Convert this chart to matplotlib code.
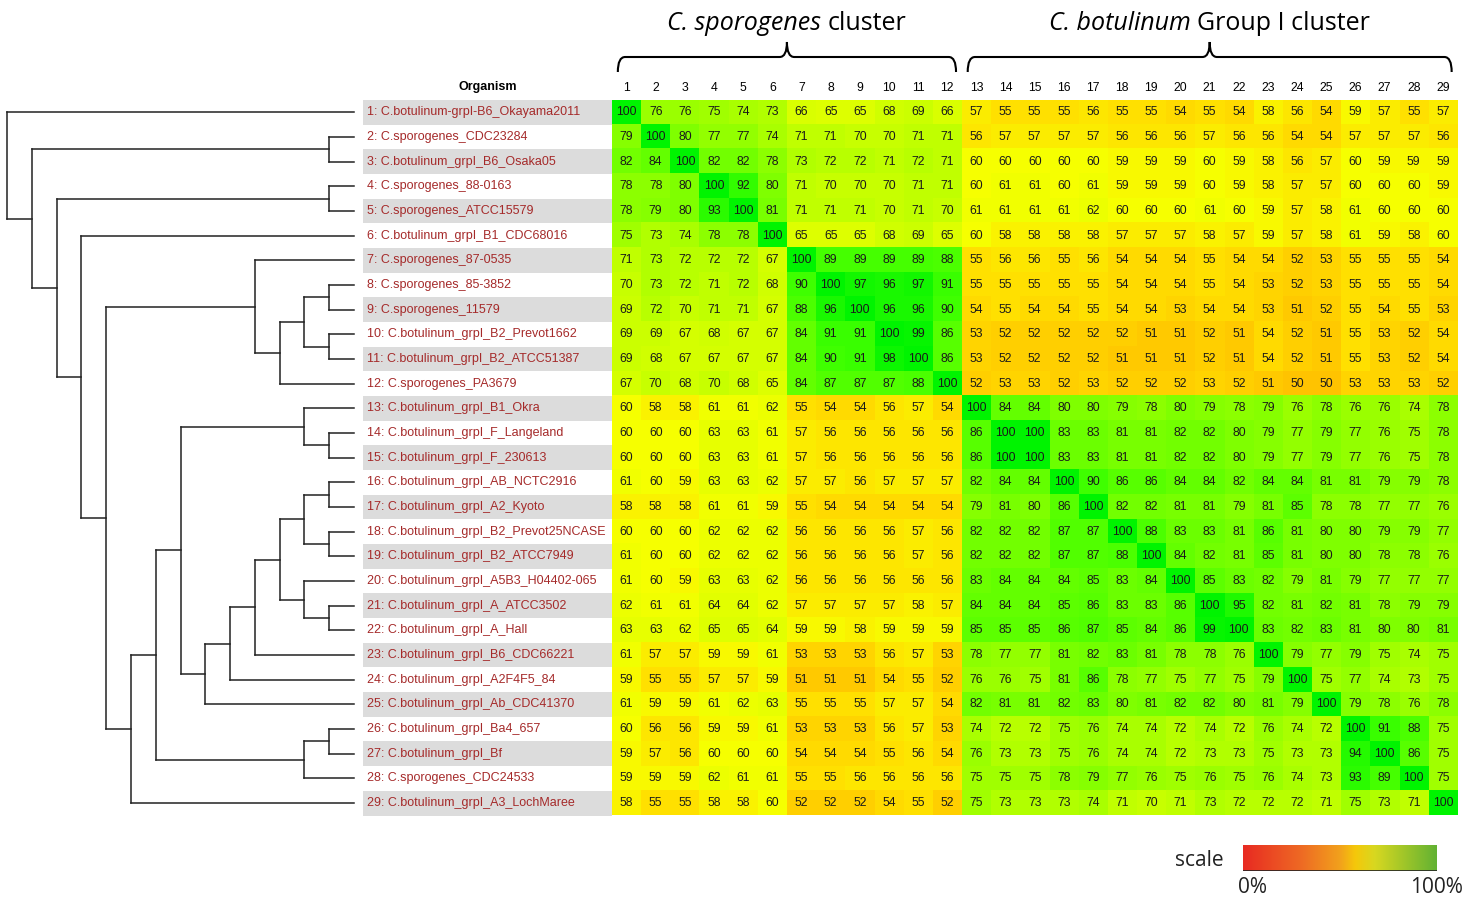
import matplotlib
matplotlib.use("Agg")
import matplotlib.pyplot as plt
import numpy as np
from matplotlib.colors import LinearSegmentedColormap, hsv_to_rgb
from matplotlib.path import Path
from matplotlib.patches import PathPatch
from matplotlib.transforms import offset_copy

organisms = [
    "C.botulinum-grpI-B6_Okayama2011", "C.sporogenes_CDC23284", "C.botulinum_grpI_B6_Osaka05",
    "C.sporogenes_88-0163", "C.sporogenes_ATCC15579", "C.botulinum_grpI_B1_CDC68016",
    "C.sporogenes_87-0535", "C.sporogenes_85-3852", "C.sporogenes_11579",
    "C.botulinum_grpI_B2_Prevot1662", "C.botulinum_grpI_B2_ATCC51387", "C.sporogenes_PA3679",
    "C.botulinum_grpI_B1_Okra", "C.botulinum_grpI_F_Langeland", "C.botulinum_grpI_F_230613",
    "C.botulinum_grpI_AB_NCTC2916", "C.botulinum_grpI_A2_Kyoto", "C.botulinum_grpI_B2_Prevot25NCASE",
    "C.botulinum_grpI_B2_ATCC7949", "C.botulinum_grpI_A5B3_H04402-065", "C.botulinum_grpI_A_ATCC3502",
    "C.botulinum_grpI_A_Hall", "C.botulinum_grpI_B6_CDC66221", "C.botulinum_grpI_A2F4F5_84",
    "C.botulinum_grpI_Ab_CDC41370", "C.botulinum_grpI_Ba4_657", "C.botulinum_grpI_Bf",
    "C.sporogenes_CDC24533", "C.botulinum_grpI_A3_LochMaree",
]

identity = [
    [100, 76, 76, 75, 74, 73, 66, 65, 65, 68, 69, 66, 57, 55, 55, 55, 56, 55, 55, 54, 55, 54, 58, 56, 54, 59, 57, 55, 57],
    [79, 100, 80, 77, 77, 74, 71, 71, 70, 70, 71, 71, 56, 57, 57, 57, 57, 56, 56, 56, 57, 56, 56, 54, 54, 57, 57, 57, 56],
    [82, 84, 100, 82, 82, 78, 73, 72, 72, 71, 72, 71, 60, 60, 60, 60, 60, 59, 59, 59, 60, 59, 58, 56, 57, 60, 59, 59, 59],
    [78, 78, 80, 100, 92, 80, 71, 70, 70, 70, 71, 71, 60, 61, 61, 60, 61, 59, 59, 59, 60, 59, 58, 57, 57, 60, 60, 60, 59],
    [78, 79, 80, 93, 100, 81, 71, 71, 71, 70, 71, 70, 61, 61, 61, 61, 62, 60, 60, 60, 61, 60, 59, 57, 58, 61, 60, 60, 60],
    [75, 73, 74, 78, 78, 100, 65, 65, 65, 68, 69, 65, 60, 58, 58, 58, 58, 57, 57, 57, 58, 57, 59, 57, 58, 61, 59, 58, 60],
    [71, 73, 72, 72, 72, 67, 100, 89, 89, 89, 89, 88, 55, 56, 56, 55, 56, 54, 54, 54, 55, 54, 54, 52, 53, 55, 55, 55, 54],
    [70, 73, 72, 71, 72, 68, 90, 100, 97, 96, 97, 91, 55, 55, 55, 55, 55, 54, 54, 54, 55, 54, 53, 52, 53, 55, 55, 55, 54],
    [69, 72, 70, 71, 71, 67, 88, 96, 100, 96, 96, 90, 54, 55, 54, 54, 55, 54, 54, 53, 54, 54, 53, 51, 52, 55, 54, 55, 53],
    [69, 69, 67, 68, 67, 67, 84, 91, 91, 100, 99, 86, 53, 52, 52, 52, 52, 52, 51, 51, 52, 51, 54, 52, 51, 55, 53, 52, 54],
    [69, 68, 67, 67, 67, 67, 84, 90, 91, 98, 100, 86, 53, 52, 52, 52, 52, 51, 51, 51, 52, 51, 54, 52, 51, 55, 53, 52, 54],
    [67, 70, 68, 70, 68, 65, 84, 87, 87, 87, 88, 100, 52, 53, 53, 52, 53, 52, 52, 52, 53, 52, 51, 50, 50, 53, 53, 53, 52],
    [60, 58, 58, 61, 61, 62, 55, 54, 54, 56, 57, 54, 100, 84, 84, 80, 80, 79, 78, 80, 79, 78, 79, 76, 78, 76, 76, 74, 78],
    [60, 60, 60, 63, 63, 61, 57, 56, 56, 56, 56, 56, 86, 100, 100, 83, 83, 81, 81, 82, 82, 80, 79, 77, 79, 77, 76, 75, 78],
    [60, 60, 60, 63, 63, 61, 57, 56, 56, 56, 56, 56, 86, 100, 100, 83, 83, 81, 81, 82, 82, 80, 79, 77, 79, 77, 76, 75, 78],
    [61, 60, 59, 63, 63, 62, 57, 57, 56, 57, 57, 57, 82, 84, 84, 100, 90, 86, 86, 84, 84, 82, 84, 84, 81, 81, 79, 79, 78],
    [58, 58, 58, 61, 61, 59, 55, 54, 54, 54, 54, 54, 79, 81, 80, 86, 100, 82, 82, 81, 81, 79, 81, 85, 78, 78, 77, 77, 76],
    [60, 60, 60, 62, 62, 62, 56, 56, 56, 56, 57, 56, 82, 82, 82, 87, 87, 100, 88, 83, 83, 81, 86, 81, 80, 80, 79, 79, 77],
    [61, 60, 60, 62, 62, 62, 56, 56, 56, 56, 57, 56, 82, 82, 82, 87, 87, 88, 100, 84, 82, 81, 85, 81, 80, 80, 78, 78, 76],
    [61, 60, 59, 63, 63, 62, 56, 56, 56, 56, 56, 56, 83, 84, 84, 84, 85, 83, 84, 100, 85, 83, 82, 79, 81, 79, 77, 77, 77],
    [62, 61, 61, 64, 64, 62, 57, 57, 57, 57, 58, 57, 84, 84, 84, 85, 86, 83, 83, 86, 100, 95, 82, 81, 82, 81, 78, 79, 79],
    [63, 63, 62, 65, 65, 64, 59, 59, 58, 59, 59, 59, 85, 85, 85, 86, 87, 85, 84, 86, 99, 100, 83, 82, 83, 81, 80, 80, 81],
    [61, 57, 57, 59, 59, 61, 53, 53, 53, 56, 57, 53, 78, 77, 77, 81, 82, 83, 81, 78, 78, 76, 100, 79, 77, 79, 75, 74, 75],
    [59, 55, 55, 57, 57, 59, 51, 51, 51, 54, 55, 52, 76, 76, 75, 81, 86, 78, 77, 75, 77, 75, 79, 100, 75, 77, 74, 73, 75],
    [61, 59, 59, 61, 62, 63, 55, 55, 55, 57, 57, 54, 82, 81, 81, 82, 83, 80, 81, 82, 82, 80, 81, 79, 100, 79, 78, 76, 78],
    [60, 56, 56, 59, 59, 61, 53, 53, 53, 56, 57, 53, 74, 72, 72, 75, 76, 74, 74, 72, 74, 72, 76, 74, 72, 100, 91, 88, 75],
    [59, 57, 56, 60, 60, 60, 54, 54, 54, 55, 56, 54, 76, 73, 73, 75, 76, 74, 74, 72, 73, 73, 75, 73, 73, 94, 100, 86, 75],
    [59, 59, 59, 62, 61, 61, 55, 55, 56, 56, 56, 56, 75, 75, 75, 78, 79, 77, 76, 75, 76, 75, 76, 74, 73, 93, 89, 100, 75],
    [58, 55, 55, 58, 58, 60, 52, 52, 52, 54, 55, 52, 75, 73, 73, 73, 74, 71, 70, 71, 73, 72, 72, 72, 71, 75, 73, 71, 100],
]

# dendrogram merges: (child_a, child_b, depth); leaves are 0..28, merge k gets id 29+k
merges = [
    (1, 2, 13), (3, 4, 13), (7, 8, 13), (9, 10, 13), (31, 32, 12), (33, 11, 11),
    (6, 34, 10), (13, 14, 13), (12, 36, 12), (15, 16, 13), (17, 18, 13), (38, 39, 12),
    (20, 21, 13), (19, 41, 12), (40, 42, 11), (43, 22, 10), (44, 23, 9), (45, 24, 8),
    (37, 46, 7), (25, 26, 13), (48, 27, 12), (47, 49, 6), (50, 28, 5), (35, 51, 4),
    (5, 52, 3), (30, 53, 2), (29, 54, 1), (0, 55, 0),
]
leaf_depth = 14

# (italic part, plain part, first column, last column)
clusters = [
    ("C. sporogenes", "cluster", 1, 12),
    ("C. botulinum", "Group I cluster", 13, 29),
]

n = len(organisms)
M = np.array(identity)
W, H = 1478, 899

# heat colours: orange-yellow at 50% going to pure green at 100%
hue_pts = [(50, 46), (55, 53), (60, 62), (65, 68), (70, 73), (75, 82), (80, 90), (85, 98), (90, 105), (100, 120)]
cm_nodes = [((v - 50) / 50, hsv_to_rgb([h / 360, 1.0, 1.0 if v < 95 else 0.96])) for v, h in hue_pts]
heat = LinearSegmentedColormap.from_list("heat", cm_nodes)

fig = plt.figure(figsize=(W / 100, H / 100), dpi=100)
renderer = fig.canvas.get_renderer()

top_px, bot_px = 100, 815.5
ax_b = (H - bot_px) / H
ax_h = (bot_px - top_px) / H

# heatmap
ax = fig.add_axes([612 / W, ax_b, 845.5 / W, ax_h])
ax.imshow(M, cmap=heat, vmin=50, vmax=100, aspect='auto', interpolation='nearest')
for i in range(n):
    for j in range(n):
        ax.text(j, i, str(M[i, j]), ha='center', va='center', fontsize=8.8,
                family='Liberation Sans', color='#1a1a1a')
ax.xaxis.tick_top()
ax.set_xticks(range(n))
ax.set_xticklabels([str(k + 1) for k in range(n)], fontsize=8.8, family='Liberation Sans')
ax.tick_params(axis='x', length=0, pad=4.5)
ax.set_yticks([])
for s in ax.spines.values():
    s.set_visible(False)

# cluster braces and titles
axh_px = bot_px - top_px
tr = ax.get_xaxis_transform()
y_end = 1 + (100 - 72) / axh_px
y_mid = 1 + (100 - 57) / axh_px
y_tip = 1 + (100 - 42) / axh_px
y_title = 1 + (100 - 23) / axh_px
r = 0.25
for it_part, plain_part, c0, c1 in clusters:
    x0, x1 = c0 - 1 - 0.3, c1 - 1 + 0.3
    xc = (c0 + c1) / 2 - 1
    verts = [(x0, y_end), (x0, y_mid), (x0 + r, y_mid),
             (xc - r, y_mid), (xc, y_mid), (xc, y_tip),
             (xc, y_mid), (xc + r, y_mid),
             (x1 - r, y_mid), (x1, y_mid), (x1, y_end)]
    codes = [Path.MOVETO, Path.CURVE3, Path.CURVE3,
             Path.LINETO, Path.CURVE3, Path.CURVE3,
             Path.CURVE3, Path.CURVE3,
             Path.LINETO, Path.CURVE3, Path.CURVE3]
    ax.add_patch(PathPatch(Path(verts, codes), transform=tr, fill=False,
                           lw=1.5, color='black', clip_on=False))
    t1 = ax.text(xc, y_title, it_part, transform=tr, ha='left', va='center',
                 fontsize=18, family='Open Sans', style='italic', color='black')
    t2 = ax.text(xc, y_title, plain_part, transform=tr, ha='left', va='center',
                 fontsize=18, family='Open Sans', color='black')
    w1 = t1.get_window_extent(renderer).width
    w2 = t2.get_window_extent(renderer).width
    gap = 6.5
    start = -(w1 + gap + w2) / 2
    t1.set_transform(offset_copy(tr, fig, x=start, y=0, units='dots'))
    t2.set_transform(offset_copy(tr, fig, x=start + w1 + gap, y=0, units='dots'))

# organism labels
axl = fig.add_axes([363 / W, ax_b, (612 - 363) / W, ax_h])
axl.set_xlim(0, 1)
axl.set_ylim(n - 0.5, -0.5)
for i, name in enumerate(organisms):
    if i % 2 == 0:
        axl.axhspan(i - 0.5, i + 0.5, color='#dcdcdc', lw=0)
    axl.text(0.016, i, f"{i + 1}: {name}", ha='left', va='center', fontsize=9.0,
             family='Liberation Sans', color='#a52a2a')
axl.text(0.5, 1 + 13 / axh_px, "Organism", transform=axl.transAxes, ha='center', va='center',
         fontsize=9.0, fontweight='bold', family='Liberation Sans')
axl.axis('off')

# dendrogram
axd = fig.add_axes([7 / W, ax_b, 347 / W, ax_h])
axd.set_xlim(0, leaf_depth)
axd.set_ylim(n - 0.5, -0.5)
node_y = {i: float(i) for i in range(n)}
node_x = {i: leaf_depth for i in range(n)}
for k, (a, b, d) in enumerate(merges):
    nid = n + k
    node_y[nid] = (node_y[a] + node_y[b]) / 2
    node_x[nid] = d
    axd.plot([d, d], [node_y[a], node_y[b]], color='#222222', lw=1.1, clip_on=False)
    for c in (a, b):
        axd.plot([d, node_x[c]], [node_y[c], node_y[c]], color='#222222', lw=1.1, clip_on=False)
axd.axis('off')

# scale legend
axs = fig.add_axes([1243 / W, (H - 871) / H, 194 / W, 26 / H])
scale_cmap = LinearSegmentedColormap.from_list(
    "scale", [(0, '#e82a22'), (0.3, '#ee6a24'), (0.5, '#f2a11c'), (0.58, '#f5c80a'),
              (0.68, '#d8d820'), (1.0, '#62b233')])
axs.imshow(np.linspace(0, 1, 256)[None, :], cmap=scale_cmap, aspect='auto')
axs.set_xticks([])
axs.set_yticks([])
for s in axs.spines.values():
    s.set_visible(False)
axs.axhline(0.5, color='#222222', lw=1.2)
axs.text(-0.1, 0.4, "scale", transform=axs.transAxes, ha='right', va='center',
         fontsize=15, family='Open Sans', color='#222222')
axs.text(0.05, -0.62, "0%", transform=axs.transAxes, ha='center', va='center',
         fontsize=15, family='Open Sans', color='#222222')
axs.text(1.0, -0.62, "100%", transform=axs.transAxes, ha='center', va='center',
         fontsize=15, family='Open Sans', color='#222222')

fig.savefig("out.png", dpi=100)
